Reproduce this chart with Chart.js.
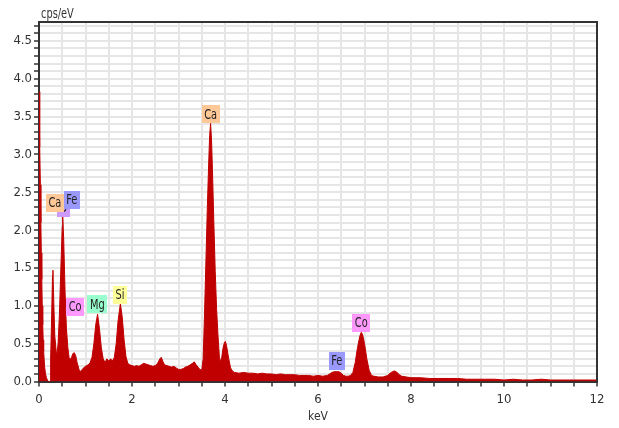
<!DOCTYPE html>
<html>
<head>
<meta charset="utf-8">
<script src="https://cdn.jsdelivr.net/npm/chart.js@4.4.1/dist/chart.umd.min.js"></script>
<style>
  html, body { margin: 0; padding: 0; background: #ffffff; }
  canvas { display: block; }
</style>
</head>
<body>
<canvas id="c" width="619" height="428"></canvas>
<script>
// ---- data ----
const keV = [
  0.00, 0.01, 0.02, 0.03, 0.04, 0.05, 0.06, 0.07, 0.08, 0.09, 0.10, 0.12, 0.14, 0.16, 0.18, 0.20, 0.24,
  0.25, 0.27, 0.29, 0.30, 0.32, 0.34, 0.37, 0.39, 0.41, 0.44, 0.47, 0.50, 0.51, 0.53, 0.56, 0.59, 0.62,
  0.65, 0.68, 0.70, 0.73, 0.76, 0.79, 0.82, 0.86, 0.90, 0.94, 0.98, 1.02, 1.06, 1.10, 1.14, 1.18, 1.22,
  1.26, 1.30, 1.34, 1.38, 1.42, 1.46, 1.50, 1.54, 1.58, 1.62, 1.66, 1.70, 1.75, 1.79, 1.83, 1.87, 1.91,
  1.95, 2.00, 2.05, 2.10, 2.15, 2.20, 2.25, 2.30, 2.35, 2.40, 2.45, 2.50, 2.55, 2.60, 2.63, 2.66, 2.70,
  2.75, 2.80, 2.85, 2.90, 2.95, 3.00, 3.05, 3.10, 3.15, 3.20, 3.25, 3.30, 3.34, 3.38, 3.42, 3.46, 3.50,
  3.53, 3.56, 3.59, 3.62, 3.65, 3.67, 3.69, 3.71, 3.73, 3.76, 3.79, 3.82, 3.85, 3.88, 3.90, 3.93, 3.96,
  3.99, 4.01, 4.04, 4.08, 4.12, 4.16, 4.20, 4.30, 4.40, 4.50, 4.60, 4.70, 4.80, 4.90, 5.00, 5.10, 5.20,
  5.30, 5.40, 5.50, 5.60, 5.70, 5.80, 5.90, 6.00, 6.10, 6.20, 6.25, 6.30, 6.35, 6.40, 6.45, 6.50, 6.55,
  6.60, 6.65, 6.70, 6.75, 6.80, 6.85, 6.90, 6.93, 6.96, 7.00, 7.05, 7.10, 7.15, 7.20, 7.30, 7.40, 7.50,
  7.55, 7.60, 7.65, 7.70, 7.75, 7.80, 7.90, 8.00, 8.20, 8.40, 8.60, 8.80, 9.00, 9.20, 9.40, 9.60, 9.80,
  10.00, 10.20, 10.40, 10.60, 10.80, 11.00, 11.20, 11.40, 11.60, 11.80, 12.00
];
const cps = [
  3.83, 3.60, 3.10, 2.60, 2.10, 1.70, 1.35, 1.00, 0.75, 0.55, 0.40, 0.20, 0.10, 0.05, 0.02, 0.00, 0.00,
  0.30, 0.80, 1.40, 1.47, 1.00, 0.60, 0.40, 0.36, 0.50, 0.90, 1.50, 2.05, 2.18, 1.90, 1.20, 0.70, 0.45,
  0.30, 0.30, 0.32, 0.37, 0.38, 0.34, 0.25, 0.16, 0.13, 0.17, 0.19, 0.21, 0.22, 0.25, 0.32, 0.50, 0.75,
  0.89, 0.70, 0.45, 0.30, 0.25, 0.30, 0.27, 0.30, 0.27, 0.32, 0.50, 0.80, 1.03, 0.85, 0.55, 0.33, 0.24,
  0.22, 0.21, 0.20, 0.21, 0.20, 0.22, 0.24, 0.23, 0.22, 0.21, 0.20, 0.21, 0.24, 0.30, 0.32, 0.27, 0.22,
  0.21, 0.20, 0.19, 0.20, 0.18, 0.16, 0.16, 0.17, 0.19, 0.20, 0.22, 0.24, 0.26, 0.22, 0.19, 0.16, 0.15,
  0.30, 0.90, 1.60, 2.30, 2.90, 3.25, 3.41, 3.20, 2.80, 2.10, 1.45, 0.95, 0.60, 0.32, 0.26, 0.32, 0.45,
  0.52, 0.53, 0.45, 0.30, 0.18, 0.14, 0.12, 0.11, 0.12, 0.11, 0.11, 0.10, 0.11, 0.10, 0.10, 0.09, 0.10,
  0.09, 0.09, 0.09, 0.08, 0.08, 0.08, 0.07, 0.08, 0.07, 0.08, 0.10, 0.12, 0.13, 0.13, 0.13, 0.11, 0.08,
  0.07, 0.07, 0.08, 0.12, 0.25, 0.45, 0.60, 0.65, 0.62, 0.50, 0.30, 0.15, 0.08, 0.07, 0.06, 0.06, 0.08,
  0.11, 0.13, 0.14, 0.12, 0.09, 0.07, 0.06, 0.05, 0.05, 0.04, 0.04, 0.04, 0.04, 0.03, 0.03, 0.03, 0.03,
  0.02, 0.03, 0.02, 0.02, 0.03, 0.02, 0.02, 0.02, 0.02, 0.02, 0.02
];

// peak identification labels (drawn in this order)
const peakNames  = ["O",    "Ca",   "Fe",   "Co",   "Mg",   "Si",   "Ca",   "Fe",   "Co"];
const peakKeV    = [0.525,  0.341,  0.705,  0.776,  1.254,  1.740,  3.691,  6.403,  6.930];
const peakLevel  = [2.18,   2.24,   2.28,   0.87,   0.90,   1.03,   3.41,   0.15,   0.65];
const peakColors = ["#CC99FF", "#FFC896", "#9999FF", "#FF99FF", "#99FFCC", "#FFFF99", "#FFC896", "#9999FF", "#FF99FF"];

const xTitle = "keV";
const yTitle = "cps/eV";
const FONT = '"DejaVu Sans Condensed", "Liberation Sans Narrow", "Roboto Condensed", "DejaVu Sans", sans-serif';
const NARROW = 0.78; // horizontal squeeze to mimic a condensed face

function narrowText(ctx, text, x, y) {
  ctx.save();
  ctx.translate(x, y);
  ctx.scale(NARROW, 1);
  ctx.fillText(text, 0, 0);
  ctx.restore();
}

const framePlugin = {
  id: 'frame',
  afterDatasetsDraw(chart) {
    const { ctx, chartArea: a, scales } = chart;
    ctx.save();
    // top and right frame lines
    ctx.strokeStyle = '#333333';
    ctx.lineWidth = 2;
    ctx.beginPath();
    ctx.moveTo(a.left, a.top);
    ctx.lineTo(a.right, a.top);
    ctx.lineTo(a.right, a.bottom);
    ctx.stroke();

    // peak labels
    ctx.font = '14px ' + FONT;
    ctx.textAlign = 'center';
    ctx.textBaseline = 'middle';
    for (let i = 0; i < peakNames.length; i++) {
      const x = scales.x.getPixelForValue(peakKeV[i]);
      const yb = scales.y.getPixelForValue(peakLevel[i]);
      const w = ctx.measureText(peakNames[i]).width * NARROW + 5;
      const h = 18;
      ctx.fillStyle = peakColors[i];
      ctx.fillRect(Math.round(x - w / 2), Math.round(yb - h), Math.round(w), h);
      ctx.fillStyle = '#222222';
      narrowText(ctx, peakNames[i], x, yb - h / 2 + 0.5);
    }

    // y axis title, horizontal at the top-left
    ctx.font = '14px ' + FONT;
    ctx.textAlign = 'left';
    ctx.textBaseline = 'bottom';
    ctx.fillStyle = '#333333';
    narrowText(ctx, yTitle, a.left + 2, a.top - 1);
    ctx.restore();
  }
};

const gridColor = '#e6e6e6';

new Chart(document.getElementById('c'), {
  type: 'line',
  data: {
    datasets: [{
      data: keV.map((k, i) => ({ x: k, y: cps[i] })),
      borderColor: '#C00000',
      backgroundColor: '#C00000',
      borderWidth: 1,
      fill: 'origin',
      pointRadius: 0,
      tension: 0
    }]
  },
  options: {
    responsive: false,
    devicePixelRatio: 1,
    animation: false,
    layout: { padding: { left: 0, right: 22, top: 22, bottom: 0 } },
    plugins: { legend: { display: false }, tooltip: { enabled: false } },
    scales: {
      x: {
        type: 'linear',
        min: 0, max: 12,
        border: { display: true, color: '#333333', width: 2 },
        grid: { color: gridColor, lineWidth: 2, tickColor: '#333333', tickLength: 5, tickWidth: 1.5 },
        ticks: {
          stepSize: 0.5, autoSkip: false, maxRotation: 0, padding: 5,
          color: '#333333', font: { family: FONT, size: 13 },
          callback: (v) => (Math.abs(v % 2) < 1e-6 ? String(v) : '')
        },
        title: { display: true, text: xTitle, color: '#333333', font: { family: FONT, size: 12 }, padding: { top: 0, bottom: 4 } },
        afterFit(s) { s.height = 46.5; s.paddingLeft = 0; s.paddingRight = 0; }
      },
      y: {
        type: 'linear',
        min: 0, max: 4.75,
        border: { display: true, color: '#333333', width: 2 },
        grid: { color: gridColor, lineWidth: 2, tickColor: '#333333', tickLength: 5, tickWidth: 1.5 },
        ticks: {
          stepSize: 0.1, autoSkip: false, includeBounds: false, padding: 2,
          color: '#333333', font: { family: FONT, size: 13 },
          callback: (v) => (Math.abs(v * 2 - Math.round(v * 2)) < 1e-6 ? v.toFixed(1) : '')
        },
        afterFit(s) { s.width = 39; s.paddingTop = 0; s.paddingBottom = 0; }
      }
    }
  },
  plugins: [framePlugin]
});
</script>
</body>
</html>
